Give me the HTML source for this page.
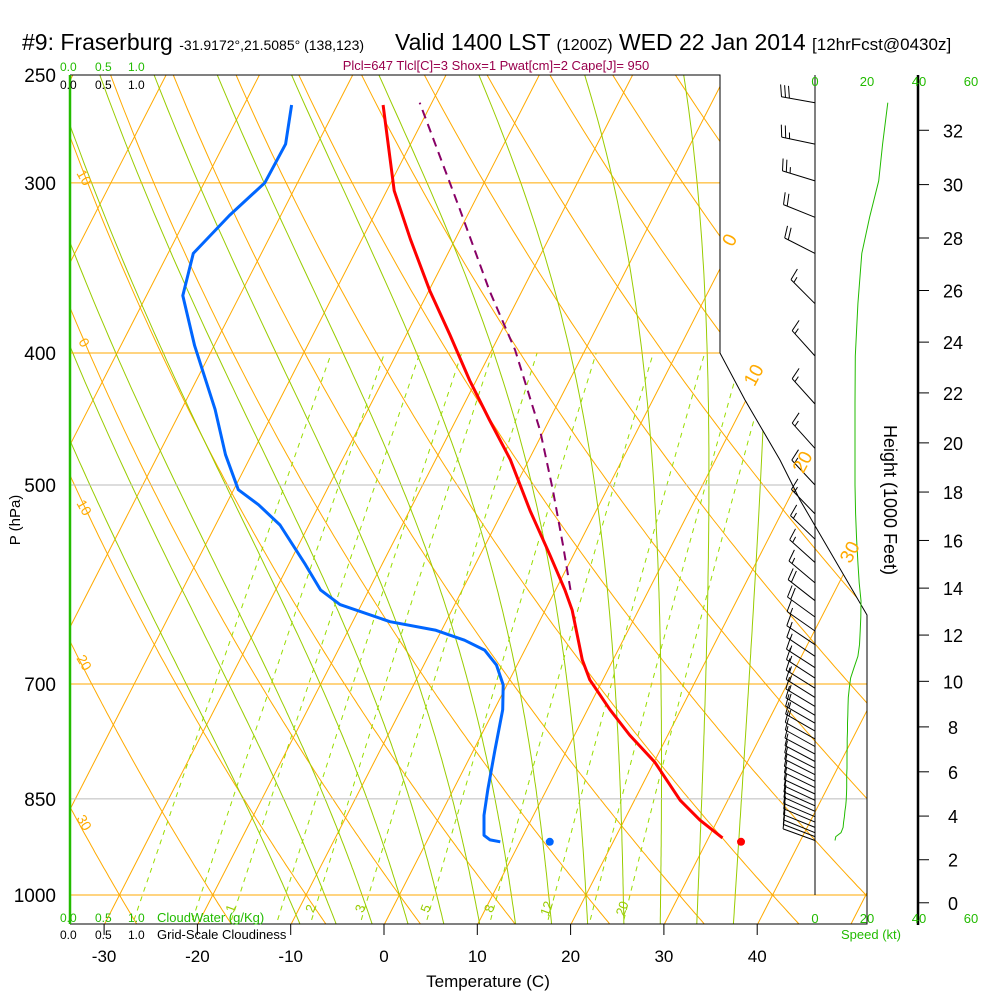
<!DOCTYPE html>
<html><head><meta charset="utf-8">
<style>
html,body{margin:0;padding:0;background:#fff;}
body{width:1000px;height:1000px;overflow:hidden;font-family:"Liberation Sans",sans-serif;}
svg text{font-family:"Liberation Sans",sans-serif;}
</style></head>
<body>
<svg id="chart" width="1000" height="1000" viewBox="0 0 1000 1000" xmlns="http://www.w3.org/2000/svg">
<defs>
<clipPath id="plotclip"><polygon points="70,75 720,75 720,353 745,400 780,460 800,500 867,615 867,924 70,924"/></clipPath>
</defs>
<g id="title">
<text x="22" y="50" font-size="23" fill="#000">#9: Fraserburg <tspan font-size="14">-31.9172°,21.5085° (138,123)</tspan></text>
<text x="395" y="50" font-size="23" fill="#000">Valid 1400 LST <tspan font-size="16">(1200Z)</tspan> WED 22 Jan 2014 <tspan font-size="17">[12hrFcst@0430z]</tspan></text>
</g>
<text x="496" y="70" font-size="13" fill="#99004c" text-anchor="middle">Plcl=647 Tlcl[C]=3 Shox=1 Pwat[cm]=2 Cape[J]= 950</text>
<g id="bg" clip-path="url(#plotclip)"></g>
<g id="frame"></g>
<g id="data"></g>
<g id="wind"></g>
<g id="labels"></g>
</svg>
<script>
// ---- data ----
const tempP = [908,881,852,799,763,731,695,672,650,618,597,563,522,479,448,419,388,360,330,304,263];
const tempT = [31.5,28.1,24.9,20.1,15.9,12.4,8.6,6.7,5.2,2.9,1.0,-2.5,-7.1,-12.0,-16.4,-20.7,-25.3,-29.9,-34.8,-39.2,-45.1];
const dewP = [914,911,904,874,837,783,731,701,678,661,650,639,630,612,597,572,535,517,504,475,440,395,363,338,317,300,281,263];
const dewT = [7.9,6.7,5.8,4.7,3.7,2.3,0.9,-0.4,-2.2,-4.3,-7.0,-10.7,-16.0,-22.3,-25.2,-28.2,-33.1,-36.5,-39.5,-42.8,-46.4,-52.1,-56.1,-57.3,-55.5,-53.5,-53.4,-54.9];
const parcelP = [597,553,504,456,398,360,314,262];
const parcelT = [1.6,-1.7,-5.8,-10.4,-17.5,-23.5,-31.1,-41.3];
const sfcP = 914, sfcT = 33.7, sfcTd = 13.2;
const windP = [262,281,299,318,338,368,402,436,470,500,525,548,570,590,608,625,640,655,668,681,693,705,716,727,738,748,758,768,778,788,798,807,816,825,834,843,852,860,868,876,884,892,900,906,912];
const windSpd = [28,26,24.5,21,18,16.5,15.5,15.4,15.4,15.4,15.6,16,16.5,17,17.7,17.6,17.4,17.1,16.5,15,13.7,13.2,12.8,12.7,12.6,12.5,12.5,12.4,12.4,12.3,12.3,12.3,12.2,12.2,12.2,12.1,12,11.8,11.5,11.3,11,10.8,10,8,7.7];
const windDir = [280,282,287,292,297,315,318,318,318,317,316,314,312,310,308,306,305,304,304,303,303,302,302,301,301,300,300,299,299,298,298,297,297,296,296,295,295,294,294,293,293,292,292,291,290];
const pTicks = [250,300,400,500,700,850,1000];
const tTicks = [-30,-20,-10,0,10,20,30,40];
const hTicks = [0,2,4,6,8,10,12,14,16,18,20,22,24,26,28,30,32];
const mixRatios = [0.4,0.7,1,1.5,2,3,5,8,12,16,20];
const mixLabels = ["1","2","3","5","8","12","20"];

// ---- axes ----
const NS='http://www.w3.org/2000/svg';
function Y(p){return 75+591.5*Math.log(p/250);}
function X(T,y){return 384+9.33*T+0.512*(925-y);}
function mk(tag,attrs,parent){const e=document.createElementNS(NS,tag);for(const k in attrs)e.setAttribute(k,attrs[k]);parent.appendChild(e);return e;}
function pathFrom(pts){return pts.map((q,i)=>(i?'L':'M')+q[0].toFixed(1)+','+q[1].toFixed(1)).join(' ');}
const bg=document.getElementById('bg'),frame=document.getElementById('frame'),dataG=document.getElementById('data'),windG=document.getElementById('wind'),lab=document.getElementById('labels');
const pres=[];for(let p=1060;p>=245;p-=5)pres.push(p);

// isotherms
for(let T=-130;T<=50;T+=10){
 const e=mk('line',{x1:X(T,924),y1:924,x2:X(T,75),y2:75,stroke:'#ffaa00','stroke-width':1},bg);
 
 
}
// dry adiabats
for(let th=-40;th<=200;th+=10){
 const pts=pres.map(p=>{const T=(th+273.15)*Math.pow(p/1000,0.286)-273.15;const y=Y(p);return [X(T,y),y];});
 const e=mk('path',{d:pathFrom(pts),fill:'none',stroke:'#ffaa00','stroke-width':1},bg);
 
 
}
// moist adiabats
function esat(T){return 6.112*Math.exp(17.67*T/(T+243.5));}
for(let tw=-12;tw<=36;tw+=4){
 let T=tw+273.15,p=1000;const pts=[];
 const up=[];let Tu=T,pu=p;
 for(pu=1000;pu>=250;){const Tc=Tu-273.15;const es=esat(Tc);const rs=0.622*es/(pu-es);
  const b=(287*Tu+2.5e6*rs)/(1004+2.5e6*2.5e6*rs*0.622/(287*Tu*Tu));
  const dp=-5;Tu+=b*dp/pu;pu+=dp;const y=Y(pu);up.push([X(Tu-273.15,y),y]);}
 let Td=T,pd=1000;const down=[];
 for(pd=1000;pd<=1060;){const Tc=Td-273.15;const es=esat(Tc);const rs=0.622*es/(pd-es);
  const b=(287*Td+2.5e6*rs)/(1004+2.5e6*2.5e6*rs*0.622/(287*Td*Td));
  const dp=5;Td+=b*dp/pd;pd+=dp;const y=Y(pd);down.unshift([X(Td-273.15,y),y]);}
 const all=down.concat([[X(tw,Y(1000)),Y(1000)]]).concat(up);
 const e=mk('path',{d:pathFrom(all),fill:'none',stroke:'#99cc00','stroke-width':1},bg);
 
 
}
// mixing ratio lines
function tMix(w,p){const es=w*p/(622+w);const l=Math.log(es/6.112);return 243.5*l/(17.67-l);}
mixRatios.forEach(w=>{
 const pts=[];for(let p=1060;p>=400;p-=10){const y=Y(p);pts.push([X(tMix(w,p),y),y]);}
 const e=mk('path',{d:pathFrom(pts),fill:'none',stroke:'#99dd00','stroke-width':1,'stroke-dasharray':'5,5'},bg);
 
 
});
mixLabels.forEach(s=>{
 const w=parseFloat(s);const y=910;const p=250*Math.exp((y-75)/591.5);const x=X(tMix(w,p),y);
 const t=mk('text',{x:x,y:y,'font-size':13,fill:'#99cc00','text-anchor':'middle',transform:`rotate(-70 ${x} ${y})`},lab);
 t.textContent=s;
 
 
});
// isobars
pTicks.forEach(p=>{
 const y=Y(p);if(p===250)return;
 const grey=(p===500||p===850);
 let xr=867;if(y<353)xr=720;else if(y<615){xr=720+(867-720)*(y-353)/(615-353);}
 const e=mk('line',{x1:70,y1:y,x2:xr,y2:y,stroke:grey?'#bbbbbb':'#ffaa00','stroke-width':1},bg);
 
 
 const t=mk('text',{x:56,y:y+7,'font-size':19,'text-anchor':'end',fill:'#000'},lab);
 t.textContent=p;
 
 
});
{const t=mk('text',{x:56,y:82,'font-size':19,'text-anchor':'end',fill:'#000'},lab);t.textContent='250';}
// frame
mk('polyline',{points:'70,75 720,75 720,353 745,400 780,460 800,500 867,615 867,924 70,924',fill:'none',stroke:'#000','stroke-width':1},frame);
mk('line',{x1:70,y1:75,x2:70,y2:924,stroke:'#22bb00','stroke-width':2.5},frame);
tTicks.forEach(T=>{
 const x=X(T,925);
 mk('line',{x1:x,y1:924,x2:x,y2:935,stroke:'#000','stroke-width':1},frame);
 const t=mk('text',{x:x,y:962,'font-size':17,'text-anchor':'middle',fill:'#000'},lab);
 t.textContent=T;
 
 
});
// isotherm labels on right
[[0,243],[10,378],[20,465],[30,555]].forEach(a=>{const x=X(a[0],a[1])+2,y=a[1];
 const t=mk('text',{x:x,y:y,'font-size':19,fill:'#ffaa00','text-anchor':'middle',transform:`rotate(-62 ${x} ${y})`},lab);t.textContent=a[0];
 });
[['10',180],['0',345],['10',510],['20',665],['30',825]].forEach(a=>{
 const t=mk('text',{x:80,y:a[1],'font-size':14,fill:'#ffaa00','text-anchor':'middle',transform:`rotate(60 80 ${a[1]})`},lab);t.textContent=a[0];
 });

// data lines
function prof(P,T,col,w,dash,name){
 const pts=P.map((p,i)=>{const y=Y(p);return [X(T[i],y),y];});
 const e=mk('path',{d:pathFrom(pts),fill:'none',stroke:col,'stroke-width':w,'stroke-linejoin':'round'},dataG);
 if(dash)e.setAttribute('stroke-dasharray',dash);
 
 
}
prof(parcelP,parcelT,'#880066',2,'9,6','parcel-line');
prof(dewP,dewT,'#0066ff',3,null,'dewpoint-line');
prof(tempP,tempT,'#ff0000',3,null,'temperature-line');
{const y=Y(sfcP);
 const c1=mk('circle',{cx:X(sfcT,y),cy:y,r:4,fill:'#ff0000'},dataG);
 const c2=mk('circle',{cx:X(sfcTd,y),cy:y,r:4,fill:'#0066ff'},dataG);}

// wind column
mk('line',{x1:815,y1:75,x2:815,y2:895,stroke:'#000','stroke-width':1},windG);
windP.forEach((p,i)=>{
 const y=Y(p);const d=windDir[i]*Math.PI/180;const sx=Math.sin(d),sy=-Math.cos(d);const L=34;
 const tx=815+sx*L,ty=y+sy*L;let path=`M815,${y.toFixed(1)} L${tx.toFixed(1)},${ty.toFixed(1)}`;
 const fx=-sy,fy=sx;let s=Math.round(windSpd[i]/5)*5;let k=0;
 while(s>=10){const bx=tx-sx*k*4,by=ty-sy*k*4;path+=` M${bx.toFixed(1)},${by.toFixed(1)} l${(fx*12+sx*3).toFixed(1)},${(fy*12+sy*3).toFixed(1)}`;s-=10;k++;}
 if(s>=5){if(k===0)k=1;const bx=tx-sx*k*4,by=ty-sy*k*4;path+=` M${bx.toFixed(1)},${by.toFixed(1)} l${(fx*6+sx*1.5).toFixed(1)},${(fy*6+sy*1.5).toFixed(1)}`;}
 const e=mk('path',{d:path,fill:'none',stroke:'#000','stroke-width':1},windG);
 
 
});
{const pts=windP.map((p,i)=>[815+2.6*windSpd[i],Y(p)]);
 const e=mk('path',{d:pathFrom(pts),fill:'none',stroke:'#22bb00','stroke-width':1},windG);
 }
[0,20,40,60].forEach((v,i)=>{
 [86,923].forEach(yy=>{const t=mk('text',{x:815+2.6*v,y:yy,'font-size':13,fill:'#22bb00','text-anchor':'middle'},lab);t.textContent=v;
 });
});
// height axis
mk('line',{x1:918,y1:75,x2:918,y2:925,stroke:'#000','stroke-width':2.5},frame);
hTicks.forEach(h=>{
 const m=h*304.8;const p=1013.25*Math.pow(1-6.5e-3*m/288.15,5.2559);const y=Y(p);
 mk('line',{x1:918,y1:y,x2:929,y2:y,stroke:'#000','stroke-width':1},frame);
 const t=mk('text',{x:953,y:y+7,'font-size':18,'text-anchor':'middle',fill:'#000'},lab);t.textContent=h;
 
});
</script>
<svg width="1000" height="1000" style="position:absolute;left:0;top:0;pointer-events:none" xmlns="http://www.w3.org/2000/svg">
<text x="20" y="520" font-size="15" text-anchor="middle" transform="rotate(-90 20 520)" font-family="Liberation Sans, sans-serif">P (hPa)</text>
<text x="488" y="987" font-size="17" text-anchor="middle" font-family="Liberation Sans, sans-serif">Temperature (C)</text>
<text x="884" y="500" font-size="18" text-anchor="middle" transform="rotate(90 884 500)" font-family="Liberation Sans, sans-serif">Height (1000 Feet)</text>
<g font-family="Liberation Sans, sans-serif" font-size="12">
<text x="60" y="71" fill="#22bb00">0.0 <tspan x="95">0.5</tspan><tspan x="128">1.0</tspan></text>
<text x="60" y="89" fill="#000">0.0 <tspan x="95">0.5</tspan><tspan x="128">1.0</tspan></text>
<text x="60" y="922" fill="#22bb00">0.0 <tspan x="95">0.5</tspan><tspan x="128">1.0</tspan><tspan x="157" font-size="13">CloudWater (g/Kg)</tspan></text>
<text x="60" y="939" fill="#000">0.0 <tspan x="95">0.5</tspan><tspan x="128">1.0</tspan><tspan x="157" font-size="13">Grid-Scale Cloudiness</tspan></text>
<text x="871" y="939" fill="#22bb00" font-size="13" text-anchor="middle">Speed (kt)</text>
</g>
</svg>
</body></html>
